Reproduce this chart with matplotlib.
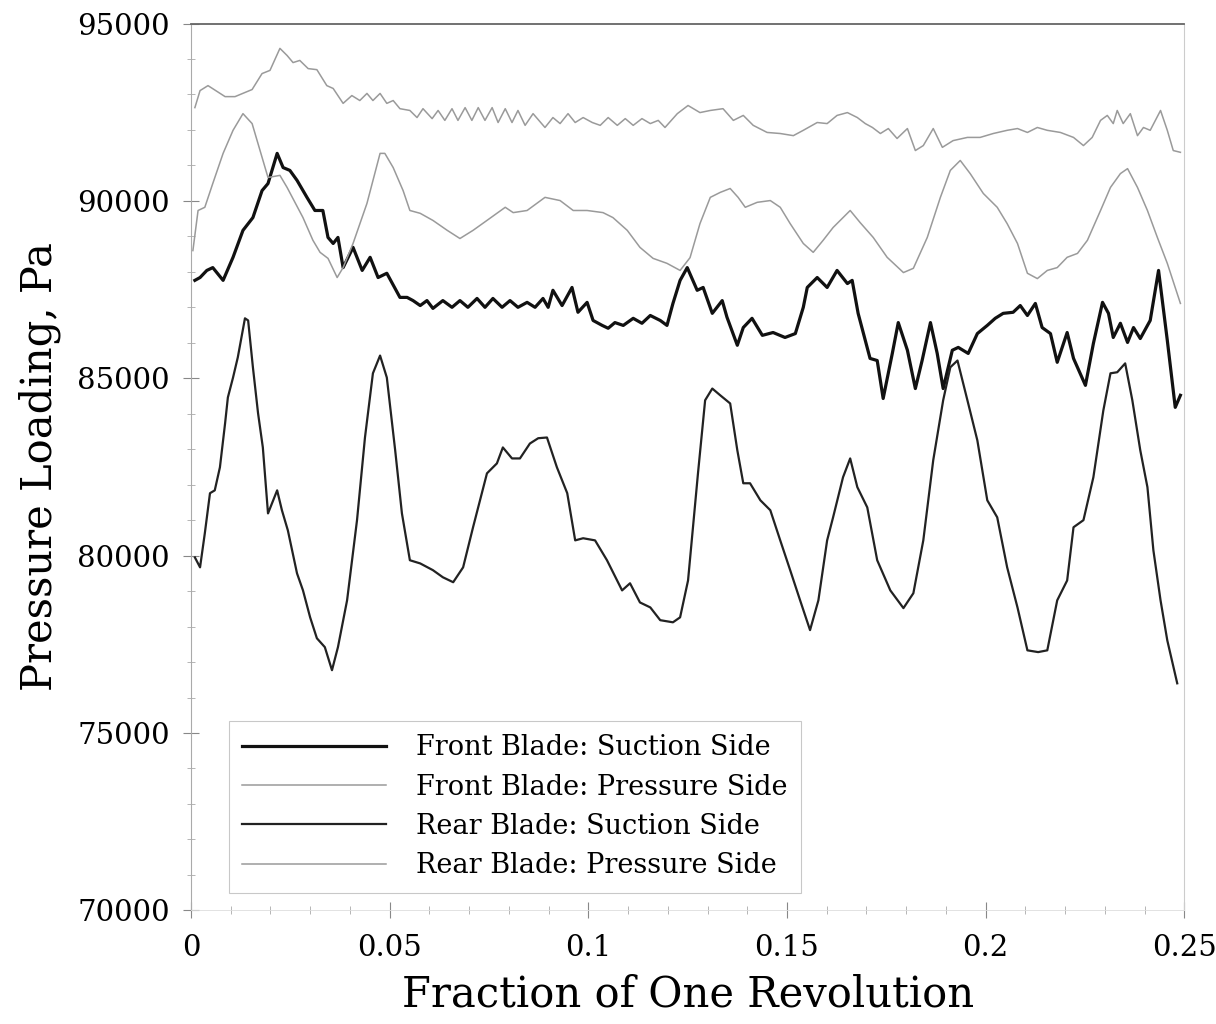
import matplotlib
matplotlib.use('Agg')
import matplotlib.pyplot as plt
from matplotlib.ticker import MultipleLocator

# Front blade, pressure side (top wavy gray curve)
fp_x = [0.0010, 0.0023, 0.0043, 0.0086, 0.0111, 0.0154, 0.0179, 0.0199, 0.0224, 0.0242,
        0.0257, 0.0274, 0.0295, 0.0317, 0.0342, 0.0358, 0.0383, 0.0405, 0.0425, 0.0443,
        0.0458, 0.0476, 0.0493, 0.0509, 0.0526, 0.0551, 0.0569, 0.0584, 0.0607, 0.0622,
        0.0639, 0.0657, 0.0672, 0.0690, 0.0707, 0.0723, 0.0740, 0.0758, 0.0773, 0.0791,
        0.0808, 0.0823, 0.0841, 0.0861, 0.0891, 0.0911, 0.0929, 0.0949, 0.0967, 0.0987,
        0.1010, 0.1030, 0.1050, 0.1073, 0.1093, 0.1113, 0.1135, 0.1156, 0.1176, 0.1193,
        0.1224, 0.1251, 0.1281, 0.1307, 0.1339, 0.1365, 0.1390, 0.1415, 0.1450, 0.1483,
        0.1516, 0.1541, 0.1576, 0.1601, 0.1626, 0.1652, 0.1677, 0.1697, 0.1715, 0.1735,
        0.1755, 0.1777, 0.1803, 0.1823, 0.1843, 0.1868, 0.1891, 0.1918, 0.1954, 0.1986,
        0.2019, 0.2054, 0.2080, 0.2105, 0.2130, 0.2155, 0.2188, 0.2221, 0.2246, 0.2268,
        0.2289, 0.2306, 0.2321, 0.2331, 0.2346, 0.2364, 0.2382, 0.2397, 0.2414, 0.2440,
        0.2457, 0.2472, 0.2490]
fp_y = [92630, 93110, 93250, 92940, 92940, 93140, 93590, 93680, 94300, 94100,
        93900, 93960, 93730, 93700, 93250, 93170, 92750, 92970, 92830, 93030,
        92830, 93030, 92750, 92830, 92600, 92550, 92350, 92600, 92320, 92550,
        92270, 92600, 92270, 92630, 92270, 92630, 92270, 92630, 92210, 92600,
        92210, 92550, 92130, 92460, 92070, 92350, 92180, 92460, 92210, 92350,
        92210, 92130, 92350, 92130, 92320, 92130, 92320, 92180, 92270, 92070,
        92460, 92690, 92490, 92550, 92600, 92270, 92410, 92130, 91930, 91900,
        91840, 91990, 92210, 92180, 92410, 92490, 92350, 92180, 92070, 91900,
        92040, 91760, 92040, 91420, 91560, 92040, 91510, 91700, 91790, 91790,
        91900, 91990, 92040, 91930, 92070, 91990, 91930, 91790, 91560, 91790,
        92270, 92410, 92180, 92550, 92180, 92460, 91840, 92070, 91990, 92550,
        91990, 91420, 91370]

# Rear blade, pressure side (middle gray curve)
rp_x = [0.0005, 0.0018, 0.0035, 0.0055, 0.0081, 0.0106, 0.0131, 0.0154, 0.0174, 0.0194,
        0.0224, 0.0242, 0.0282, 0.0307, 0.0325, 0.0345, 0.0368, 0.0383, 0.0408, 0.0443,
        0.0476, 0.0488, 0.0509, 0.0534, 0.0551, 0.0577, 0.0609, 0.0645, 0.0677, 0.0710,
        0.0745, 0.0791, 0.0811, 0.0846, 0.0891, 0.0929, 0.0962, 0.0997, 0.1037, 0.1062,
        0.1098, 0.1130, 0.1163, 0.1198, 0.1231, 0.1256, 0.1281, 0.1307, 0.1332, 0.1357,
        0.1377, 0.1395, 0.1425, 0.1458, 0.1483, 0.1508, 0.1541, 0.1566, 0.1591, 0.1616,
        0.1659, 0.1684, 0.1717, 0.1752, 0.1793, 0.1818, 0.1853, 0.1886, 0.1911, 0.1936,
        0.1961, 0.1994, 0.2029, 0.2054, 0.2080, 0.2105, 0.2130, 0.2155, 0.2180, 0.2205,
        0.2231, 0.2256, 0.2289, 0.2314, 0.2339, 0.2357, 0.2382, 0.2407, 0.2432, 0.2457,
        0.2490]
rp_y = [88600, 89730, 89820, 90490, 91340, 91990, 92460, 92180, 91420, 90660,
        90720, 90380, 89530, 88890, 88550, 88380, 87840, 88120, 88800, 89930,
        91340, 91340, 90940, 90290, 89730, 89650, 89450, 89170, 88940, 89170,
        89450, 89820, 89670, 89730, 90100, 90010, 89730, 89730, 89670, 89530,
        89170, 88690, 88380, 88240, 88040, 88400, 89360, 90100, 90240, 90350,
        90100, 89820, 89960, 90010, 89820, 89360, 88800, 88550, 88890, 89250,
        89730, 89390, 88970, 88410, 87980, 88100, 88970, 90100, 90860, 91140,
        90770, 90210, 89820, 89360, 88800, 87960, 87810, 88040, 88120, 88410,
        88520, 88890, 89730, 90380, 90770, 90910, 90380, 89730, 88970, 88240,
        87110]

# Front blade, suction side (thick black curve)
fs_x = [0.0010, 0.0023, 0.0040, 0.0055, 0.0081, 0.0106, 0.0131, 0.0156, 0.0179, 0.0194,
        0.0217, 0.0232, 0.0249, 0.0267, 0.0292, 0.0312, 0.0332, 0.0345, 0.0358, 0.0370,
        0.0383, 0.0408, 0.0431, 0.0451, 0.0471, 0.0493, 0.0526, 0.0544, 0.0559, 0.0577,
        0.0594, 0.0609, 0.0634, 0.0657, 0.0677, 0.0697, 0.0720, 0.0740, 0.0760, 0.0783,
        0.0803, 0.0823, 0.0846, 0.0866, 0.0886, 0.0899, 0.0911, 0.0934, 0.0959, 0.0974,
        0.0997, 0.1012, 0.1035, 0.1050, 0.1067, 0.1088, 0.1113, 0.1135, 0.1156, 0.1181,
        0.1198, 0.1213, 0.1231, 0.1249, 0.1274, 0.1289, 0.1312, 0.1337, 0.1349, 0.1375,
        0.1390, 0.1412, 0.1438, 0.1465, 0.1495, 0.1521, 0.1541, 0.1551, 0.1576, 0.1601,
        0.1626, 0.1652, 0.1664, 0.1679, 0.1709, 0.1727, 0.1742, 0.1765, 0.1780, 0.1803,
        0.1823, 0.1840, 0.1861, 0.1878, 0.1893, 0.1916, 0.1931, 0.1956, 0.1979, 0.2004,
        0.2024, 0.2044, 0.2069, 0.2087, 0.2105, 0.2125, 0.2142, 0.2163, 0.2180, 0.2205,
        0.2221, 0.2251, 0.2271, 0.2294, 0.2309, 0.2321, 0.2339, 0.2357, 0.2372, 0.2389,
        0.2414, 0.2435, 0.2457, 0.2477, 0.2490]
fs_y = [87760, 87840, 88040, 88120, 87760, 88410, 89170, 89530, 90290, 90490,
        91340, 90940, 90860, 90580, 90100, 89730, 89730, 88970, 88800, 88970,
        88120, 88690, 88040, 88410, 87840, 87960, 87280, 87280, 87190, 87050,
        87190, 86970, 87190, 87000, 87190, 87000, 87250, 87000, 87250, 87000,
        87190, 87000, 87140, 87000, 87250, 87000, 87480, 87050, 87560, 86860,
        87140, 86630, 86490, 86410, 86570, 86490, 86690, 86550, 86770, 86630,
        86490, 87110, 87760, 88120, 87480, 87560, 86830, 87190, 86720, 85930,
        86430, 86690, 86210, 86290, 86150, 86260, 87000, 87560, 87840, 87560,
        88040, 87670, 87760, 86830, 85560, 85500, 84430, 85700, 86570, 85790,
        84710, 85500, 86570, 85700, 84710, 85790, 85870, 85700, 86260, 86490,
        86690, 86830, 86860, 87050, 86770, 87110, 86430, 86260, 85450, 86290,
        85560, 84800, 85980, 87140, 86830, 86150, 86550, 86010, 86430, 86120,
        86630, 88040, 86070, 84180, 84520]

# Rear blade, suction side (lower black curve)
rs_x = [0.0010, 0.0023, 0.0035, 0.0048, 0.0060, 0.0073, 0.0086, 0.0093, 0.0106, 0.0118,
        0.0136, 0.0144, 0.0156, 0.0169, 0.0181, 0.0194, 0.0217, 0.0229, 0.0244, 0.0267,
        0.0282, 0.0300, 0.0317, 0.0337, 0.0355, 0.0370, 0.0393, 0.0418, 0.0438, 0.0458,
        0.0476, 0.0493, 0.0514, 0.0531, 0.0551, 0.0577, 0.0609, 0.0634, 0.0660, 0.0685,
        0.0710, 0.0745, 0.0770, 0.0785, 0.0808, 0.0828, 0.0853, 0.0874, 0.0896, 0.0921,
        0.0947, 0.0967, 0.0987, 0.1017, 0.1047, 0.1085, 0.1105, 0.1130, 0.1156, 0.1181,
        0.1213, 0.1231, 0.1251, 0.1276, 0.1294, 0.1312, 0.1332, 0.1357, 0.1375, 0.1390,
        0.1407, 0.1433, 0.1458, 0.1483, 0.1508, 0.1533, 0.1558, 0.1579, 0.1601, 0.1616,
        0.1641, 0.1659, 0.1677, 0.1702, 0.1727, 0.1760, 0.1793, 0.1818, 0.1843, 0.1868,
        0.1893, 0.1911, 0.1929, 0.1954, 0.1979, 0.2004, 0.2029, 0.2054, 0.2080, 0.2105,
        0.2132, 0.2155, 0.2180, 0.2205, 0.2221, 0.2246, 0.2271, 0.2296, 0.2314, 0.2331,
        0.2351, 0.2369, 0.2389, 0.2407, 0.2422, 0.2440, 0.2457, 0.2482]
rs_y = [79950, 79670, 80630, 81760, 81840, 82490, 83730, 84460, 85020, 85590,
        86690, 86630, 85310, 84010, 83050, 81190, 81840, 81280, 80710, 79500,
        79020, 78260, 77670, 77420, 76770, 77420, 78740, 81000, 83330, 85140,
        85640, 85020, 82970, 81190, 79870, 79780, 79590, 79390, 79250, 79670,
        80800, 82320, 82600, 83050, 82740, 82740, 83160, 83310, 83330, 82490,
        81760, 80430, 80490, 80430, 79870, 79020, 79220, 78680, 78540, 78180,
        78120, 78260, 79300, 82320, 84380, 84710, 84520, 84290, 82970, 82040,
        82040, 81560, 81280, 80430, 79590, 78740, 77900, 78740, 80430, 81080,
        82210, 82740, 81930, 81360, 79870, 79020, 78520, 78940, 80430, 82690,
        84380, 85310, 85500, 84380, 83250, 81560, 81080, 79670, 78540, 77330,
        77280, 77330, 78740, 79300, 80800, 81000, 82210, 84090, 85140, 85170,
        85420, 84380, 82970, 81930, 80150, 78740, 77610, 76400]

labels = ['Front Blade: Suction Side', 'Front Blade: Pressure Side',
          'Rear Blade: Suction Side', 'Rear Blade: Pressure Side']

plt.rcParams['font.family'] = ['DejaVu Serif']

fig = plt.figure(figsize=(12.16, 10.24), dpi=100)
ax = fig.add_axes([0.157, 0.111, 0.817, 0.866])

ax.plot(fs_x, fs_y, color='#111111', lw=2.3, label=labels[0])
ax.plot(fp_x, fp_y, color='#9a9a9a', lw=1.1, label=labels[1])
ax.plot(rs_x, rs_y, color='#222222', lw=1.6, label=labels[2])
ax.plot(rp_x, rp_y, color='#9a9a9a', lw=1.1, label=labels[3])

ax.set_xlim(0, 0.25)
ax.set_ylim(70000, 95000)
ax.xaxis.set_major_locator(MultipleLocator(0.05))
ax.xaxis.set_minor_locator(MultipleLocator(0.01))
ax.yaxis.set_major_locator(MultipleLocator(5000))
ax.yaxis.set_minor_locator(MultipleLocator(1000))
ax.set_xticks([0, 0.05, 0.1, 0.15, 0.2, 0.25])
ax.set_xticklabels(['0', '0.05', '0.1', '0.15', '0.2', '0.25'])

ax.tick_params(which='major', direction='inout', length=12, width=0.8, color='#888888',
               labelsize=21)
ax.tick_params(axis='y', which='major', pad=9)
ax.tick_params(axis='x', which='major', pad=11)
ax.tick_params(which='minor', direction='inout', length=6, width=0.6, color='#aaaaaa')

ax.spines['top'].set_color('#666666')
ax.spines['top'].set_linewidth(1.3)
ax.spines['left'].set_color('#aaaaaa')
ax.spines['left'].set_linewidth(0.8)
ax.spines['right'].set_color('#cccccc')
ax.spines['right'].set_linewidth(0.8)
ax.spines['bottom'].set_color('#dddddd')
ax.spines['bottom'].set_linewidth(0.6)

ax.set_xlabel('Fraction of One Revolution', fontsize=30, labelpad=8)
ax.set_ylabel('Pressure Loading, Pa', fontsize=30, labelpad=12)

leg = ax.legend(loc='lower left', bbox_to_anchor=(0.038, 0.02), fontsize=19.5,
                frameon=True, fancybox=False, handlelength=5.3, handletextpad=1.1,
                labelspacing=0.45, borderpad=0.5, borderaxespad=0)
leg.get_frame().set_edgecolor('#bbbbbb')
leg.get_frame().set_linewidth(0.8)

plt.savefig('out.png', dpi=100)
